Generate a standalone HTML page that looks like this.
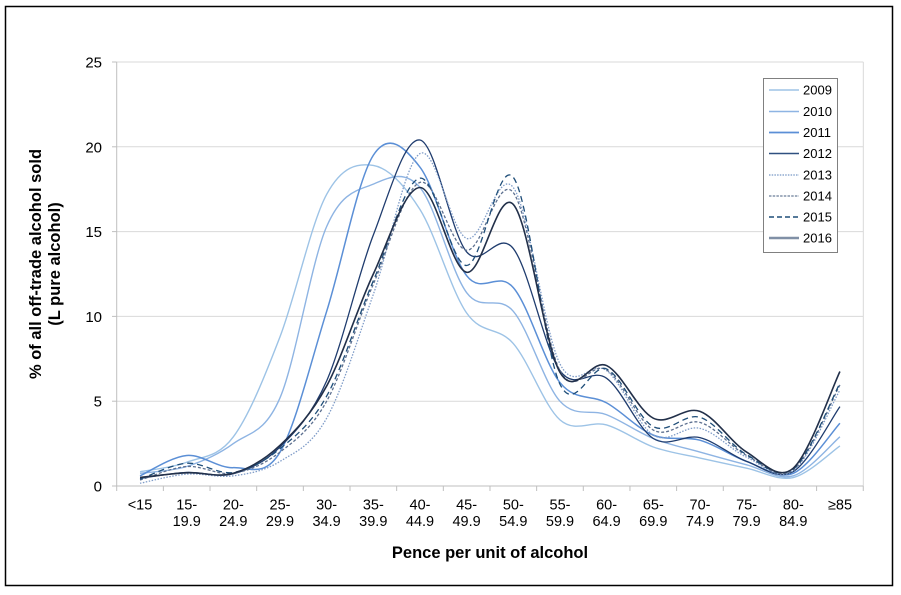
<!DOCTYPE html>
<html>
<head>
<meta charset="utf-8">
<style>
  html, body { margin:0; padding:0; background:#fff; }
  svg { display:block; }
  text { font-family: "Liberation Sans", Arial, sans-serif; fill:#000; }
</style>
</head>
<body>
<svg id="chart" width="901" height="595" viewBox="0 0 901 595" xmlns="http://www.w3.org/2000/svg">
  <rect x="0" y="0" width="901" height="595" fill="#fff"/>
  <rect x="5.5" y="6.5" width="887" height="579" fill="none" stroke="#000" stroke-width="1.5"/>

  <!-- gridlines -->
  <g stroke="#d9d9d9" stroke-width="1">
    <line x1="116.7" y1="401.2" x2="863.3" y2="401.2"/>
    <line x1="116.7" y1="316.4" x2="863.3" y2="316.4"/>
    <line x1="116.7" y1="231.6" x2="863.3" y2="231.6"/>
    <line x1="116.7" y1="146.8" x2="863.3" y2="146.8"/>
    <line x1="116.7" y1="62" x2="863.3" y2="62"/>
    <line x1="863.3" y1="62" x2="863.3" y2="486"/>
  </g>
  <!-- axes -->
  <g stroke="#bfbfbf" stroke-width="1">
    <line x1="116.7" y1="62" x2="116.7" y2="486"/>
    <line x1="116.7" y1="486" x2="863.3" y2="486"/>
    <line x1="112" y1="486" x2="116.7" y2="486"/>
    <line x1="112" y1="401.2" x2="116.7" y2="401.2"/>
    <line x1="112" y1="316.4" x2="116.7" y2="316.4"/>
    <line x1="112" y1="231.6" x2="116.7" y2="231.6"/>
    <line x1="112" y1="146.8" x2="116.7" y2="146.8"/>
    <line x1="112" y1="62" x2="116.7" y2="62"/>
  </g>
  <g id="xticks" stroke="#bfbfbf" stroke-width="1"></g>

  <!-- y labels -->
  <g font-size="15" text-anchor="end">
    <text x="102" y="491.5">0</text>
    <text x="102" y="406.7">5</text>
    <text x="102" y="321.9">10</text>
    <text x="102" y="237.1">15</text>
    <text x="102" y="152.3">20</text>
    <text x="102" y="67.5">25</text>
  </g>

  <!-- x labels -->
  <g font-size="14.5" text-anchor="middle">
    <text x="140" y="509.5">&lt;15</text>
    <text x="186.7" y="509.5">15-</text><text x="186.7" y="526">19.9</text>
    <text x="233.3" y="509.5">20-</text><text x="233.3" y="526">24.9</text>
    <text x="280" y="509.5">25-</text><text x="280" y="526">29.9</text>
    <text x="326.6" y="509.5">30-</text><text x="326.6" y="526">34.9</text>
    <text x="373.3" y="509.5">35-</text><text x="373.3" y="526">39.9</text>
    <text x="420" y="509.5">40-</text><text x="420" y="526">44.9</text>
    <text x="466.6" y="509.5">45-</text><text x="466.6" y="526">49.9</text>
    <text x="513.3" y="509.5">50-</text><text x="513.3" y="526">54.9</text>
    <text x="560" y="509.5">55-</text><text x="560" y="526">59.9</text>
    <text x="606.6" y="509.5">60-</text><text x="606.6" y="526">64.9</text>
    <text x="653.3" y="509.5">65-</text><text x="653.3" y="526">69.9</text>
    <text x="700" y="509.5">70-</text><text x="700" y="526">74.9</text>
    <text x="746.6" y="509.5">75-</text><text x="746.6" y="526">79.9</text>
    <text x="793.3" y="509.5">80-</text><text x="793.3" y="526">84.9</text>
    <text x="840" y="509.5">≥85</text>
  </g>

  <!-- axis titles -->
  <text x="490" y="558" font-size="16.5" font-weight="bold" text-anchor="middle">Pence per unit of alcohol</text>
  <g transform="translate(41,264) rotate(-90)">
    <text x="0" y="0" font-size="16.5" font-weight="bold" text-anchor="middle">% of all off-trade alcohol sold</text>
    <text x="0" y="19" font-size="16.5" font-weight="bold" text-anchor="middle">(L pure alcohol)</text>
  </g>

  <g id="series" fill="none" stroke-linejoin="round" stroke-linecap="butt"></g>

  <!-- legend -->
  <rect x="763.5" y="78.5" width="74" height="174" fill="#fff" stroke="#808080" stroke-width="1"/>
  <g fill="none">
    <line x1="769" y1="90" x2="799" y2="90" stroke="#9dc3e6" stroke-width="1.6"/>
    <line x1="769" y1="111.5" x2="799" y2="111.5" stroke="#8eb4e3" stroke-width="1.6"/>
    <line x1="769" y1="132.5" x2="799" y2="132.5" stroke="#5b8fd6" stroke-width="1.8"/>
    <line x1="769" y1="153.5" x2="799" y2="153.5" stroke="#2f5080" stroke-width="1.4"/>
    <line x1="769" y1="175" x2="799" y2="175" stroke="#8ea9cf" stroke-width="1.6" stroke-dasharray="1.5 1.2"/>
    <line x1="769" y1="196" x2="799" y2="196" stroke="#8494aa" stroke-width="1.6" stroke-dasharray="2.5 1.2"/>
    <line x1="769" y1="217" x2="799" y2="217" stroke="#1f4e79" stroke-width="1.5" stroke-dasharray="5 3"/>
    <line x1="769" y1="238" x2="799" y2="238" stroke="#8090a6" stroke-width="2.6"/>
  </g>
  <g font-size="13">
    <text x="803" y="94.5">2009</text>
    <text x="803" y="116">2010</text>
    <text x="803" y="137">2011</text>
    <text x="803" y="158">2012</text>
    <text x="803" y="179.5">2013</text>
    <text x="803" y="200.5">2014</text>
    <text x="803" y="221.5">2015</text>
    <text x="803" y="242.5">2016</text>
  </g>
</svg>
<script>
(function(){
  var NS = "http://www.w3.org/2000/svg";
  var x0 = 116.7, w = 46.66, yb = 486, ys = 16.96;
  var tg = document.getElementById('xticks');
  for (var k=0;k<=16;k++){
    var l = document.createElementNS(NS,'line');
    var xx = x0 + w*k;
    l.setAttribute('x1',xx); l.setAttribute('x2',xx);
    l.setAttribute('y1',486); l.setAttribute('y2',491);
    tg.appendChild(l);
  }
  function X(i){ return x0 + w*(i+0.5); }
  function Y(v){ return yb - ys*v; }
  var series = [
    {c:"#9dc3e6", sw:1.4, d:null, v:[0.84,1.4,2.9,8.8,17.2,18.9,16.3,10.2,8.4,3.9,3.6,2.3,1.65,1.05,0.5,2.36]},
    {c:"#8eb4e3", sw:1.4, d:null, v:[0.75,1.15,2.5,5.2,15.3,17.8,17.6,11.4,10.3,5.0,4.2,2.8,2.0,1.25,0.6,2.9]},
    {c:"#5b8fd6", sw:1.5, d:null, v:[0.6,1.8,1.08,2.0,10.3,19.5,18.8,12.4,11.7,6.1,4.9,3.0,2.7,1.45,0.75,3.7]},
    {c:"#1f3c6e", sw:1.3, d:null, v:[0.45,0.8,0.72,2.3,6.2,14.8,20.4,13.8,14.0,6.8,6.35,2.8,2.85,1.45,0.85,4.68]},
    {c:"#7f9cc8", sw:1.3, d:"1.5 1.5", v:[0.16,0.7,0.6,1.45,4.0,11.3,19.6,14.6,17.6,7.2,6.8,3.0,3.4,1.7,0.9,5.66]},
    {c:"#5d7090", sw:1.3, d:"3 2", v:[0.35,1.15,0.75,2.0,5.0,11.9,17.9,13.9,17.3,6.8,6.85,3.3,3.75,1.8,0.95,5.96]},
    {c:"#1f4e79", sw:1.3, d:"6 4", v:[0.4,1.34,0.8,2.2,5.3,12.1,18.15,13.0,18.2,6.0,6.9,3.5,4.05,1.85,1.0,6.06]},
    {c:"#22304a", sw:1.6, d:null, v:[0.5,0.78,0.75,2.4,5.9,12.5,17.6,12.6,16.6,6.7,7.1,4.0,4.4,2.0,1.05,6.75]}
  ];
  var g = document.getElementById('series');
  series.forEach(function(s){
    var p = s.v.map(function(v,i){ return [X(i), Y(v)]; });
    var d = "M" + p[0][0].toFixed(2) + "," + p[0][1].toFixed(2);
    for (var i=0;i<p.length-1;i++){
      var a = p[i-1]||p[i], b = p[i], c = p[i+1], e = p[i+2]||p[i+1];
      var c1x = b[0] + (c[0]-a[0])/6, c1y = b[1] + (c[1]-a[1])/6;
      var c2x = c[0] - (e[0]-b[0])/6, c2y = c[1] - (e[1]-b[1])/6;
      d += " C" + c1x.toFixed(2)+","+c1y.toFixed(2)+" "+c2x.toFixed(2)+","+c2y.toFixed(2)+" "+c[0].toFixed(2)+","+c[1].toFixed(2);
    }
    var path = document.createElementNS(NS,'path');
    path.setAttribute('d', d);
    path.setAttribute('stroke', s.c);
    path.setAttribute('stroke-width', s.sw);
    if (s.d) path.setAttribute('stroke-dasharray', s.d);
    g.appendChild(path);
  });
})();
</script>
</body>
</html>
